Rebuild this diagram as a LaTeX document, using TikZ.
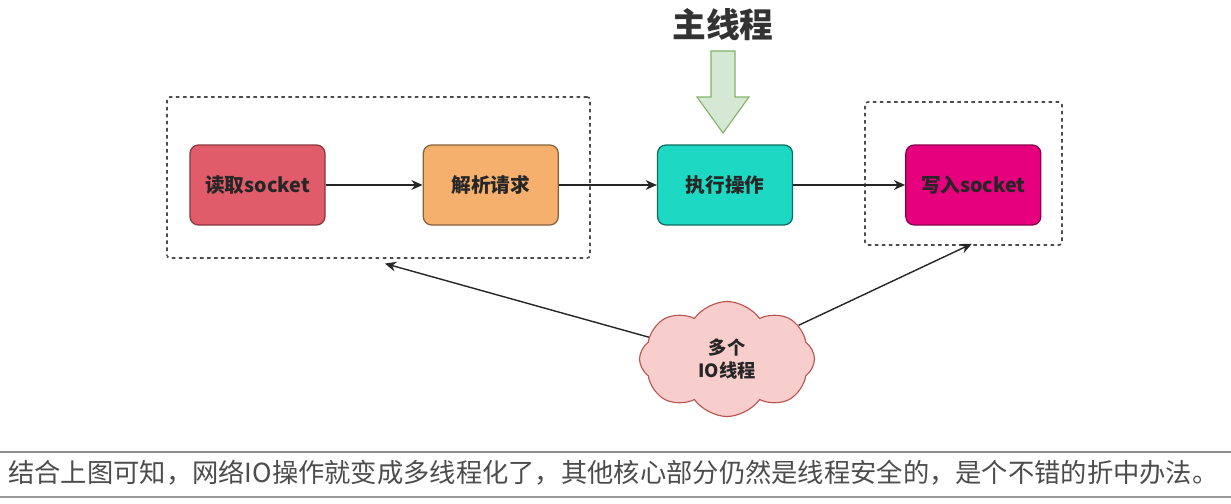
\documentclass[tikz,border=0pt]{standalone}
\usepackage{fontspec}
\setmainfont{Noto Sans CJK SC}
\usetikzlibrary{positioning,arrows.meta,shapes.symbols}
\definecolor{readred}{HTML}{E05C6A}
\definecolor{parseorange}{HTML}{F6B06E}
\definecolor{execteal}{HTML}{1DD8C2}
\definecolor{writemag}{HTML}{E6007E}
\definecolor{cloudpink}{HTML}{F8CECC}
\definecolor{cloudline}{HTML}{B85450}
\definecolor{arrowgreen}{HTML}{D5E8D4}
\definecolor{arrowline}{HTML}{82B366}

\begin{document}
\begin{tikzpicture}[
    stage/.style={draw, rounded corners=6pt, line width=0.9pt, minimum width=3.375cm,
      minimum height=2cm, font=\bfseries\fontsize{14}{16}\selectfont, text=black!85},
    group/.style={draw=black!70, dash pattern=on 2.5pt off 2.5pt, line width=1.1pt,
      rounded corners=2pt},
    conn/.style={-{Stealth[length=8pt,width=7pt]}, line width=1pt, black!85}]
    \useasboundingbox (0,0) rectangle (30.775,12.575);

    \node[stage, fill=readred, draw=readred!60!black] (readsock) at (6.4375,7.95) {读取socket};
    \node[stage, fill=parseorange, draw=parseorange!55!black, right=2.425cm of readsock] (parsereq) {解析请求};
    \node[stage, fill=execteal, draw=execteal!50!black, right=2.45cm of parsereq] (execop) {执行操作};
    \node[stage, fill=writemag, draw=writemag!60!black, right=2.8cm of execop] (writesock) {写入socket};

    \node[group, minimum width=10.575cm, minimum height=4.025cm] (iogroup) at (9.4625,8.1375) {};
    \node[group, minimum width=4.925cm, minimum height=3.575cm] (outgroup) at (24.0875,8.2375) {};

    \draw[conn] (readsock) -- (parsereq);
    \draw[conn] (parsereq) -- (execop);
    \draw[conn] (execop) -- (writesock);

    % main thread only runs the middle stage
    \node[font=\bfseries\fontsize{24}{27}\selectfont, text=black!80] (mainthread) at (18.075,11.95) {主线程};
    \filldraw[fill=arrowgreen, draw=arrowline, line width=0.8pt]
      (17.775,11.3) -- (18.375,11.3) -- (18.375,10.15) -- (18.725,10.15) -- (18.075,9.25)
      -- (17.425,10.15) -- (17.775,10.15) -- cycle;

    \node[cloud, cloud puffs=8, cloud puff arc=110, aspect=1.5, fill=cloudpink, draw=cloudline, line width=0.8pt,
      minimum width=4.375cm, minimum height=2.875cm, align=center,
      font=\bfseries\fontsize{13}{16}\selectfont, text=black!85] (iopool) at (18.175,3.6) {多个\\IO线程};

    \draw[conn] (iopool) -- ([xshift=0.16cm,yshift=-0.12cm]iogroup.south);
    \draw[conn] (iopool) -- ([xshift=0.21cm,yshift=0.05cm]outgroup.south);

    \draw[black!45, line width=2pt] (0,1.275) -- (30.775,1.275);
    \draw[black!40, line width=1.2pt] (0,0.15) -- (30.775,0.15);
    \node[anchor=west, inner sep=0pt, text=black!70, font=\fontsize{18.7}{21}\selectfont] (summary) at (0.2,0.76)
      {结合上图可知，网络IO操作就变成多线程化了，其他核心部分仍然是线程安全的，是个不错的折中办法。};
\end{tikzpicture}
\end{document}
